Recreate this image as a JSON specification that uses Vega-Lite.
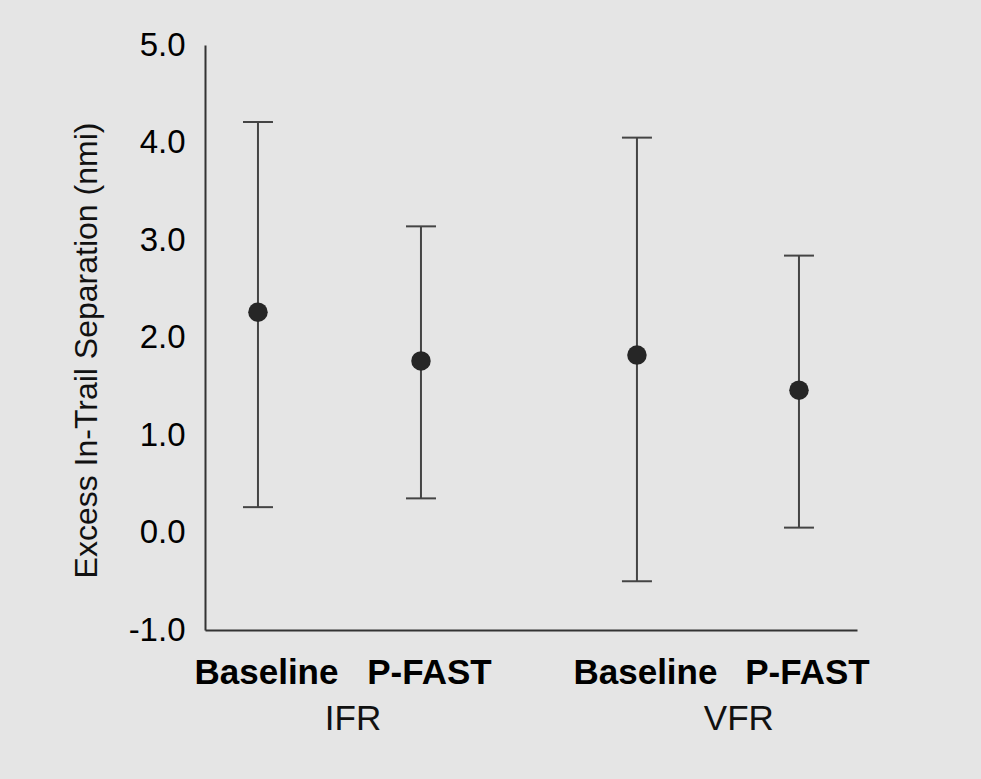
{
  "$schema": "https://vega.github.io/schema/vega-lite/v6.json",
  "autosize": "none",
  "padding": {"left": 205, "top": 45, "right": 124, "bottom": 149},
  "width": 652,
  "height": 585,
  "background": "#e5e5e5",
  "config": {"view": {"stroke": null}, "font": "Liberation Sans"},
  "datasets": {
    "stats": [
      {"cond": "IFR Baseline", "pos": 1, "mean": 2.26, "lo": 0.26, "hi": 4.21},
      {"cond": "IFR P-FAST", "pos": 2, "mean": 1.76, "lo": 0.35, "hi": 3.14},
      {"cond": "VFR Baseline", "pos": 3.325, "mean": 1.82, "lo": -0.5, "hi": 4.05},
      {"cond": "VFR P-FAST", "pos": 4.319, "mean": 1.46, "lo": 0.05, "hi": 2.84}
    ],
    "groups": [
      {"group": "IFR", "gpos": 1.583},
      {"group": "VFR", "gpos": 3.95}
    ]
  },
  "layer": [
    {
      "data": {"name": "stats"},
      "mark": {"type": "rule", "color": "#444444", "strokeWidth": 2},
      "encoding": {
        "x": {
          "field": "pos", "type": "quantitative",
          "scale": {"domain": [0.675, 4.675], "nice": false, "zero": false},
          "axis": {
            "title": null,
            "values": [1, 2, 3.325, 4.319],
            "labelExpr": "(datum.value < 1.5 || (datum.value > 3 && datum.value < 4)) ? 'Baseline' : 'P-FAST'",
            "labelFont": "Liberation Sans",
            "labelFontWeight": "bold",
            "labelFontSize": 35,
            "labelColor": "#000000",
            "labelBaseline": "alphabetic",
            "labelPadding": 53,
            "labelOffset": 8,
            "labelOverlap": false,
            "labelFlush": false,
            "ticks": false,
            "grid": false,
            "domainColor": "#333333",
            "domainWidth": 2
          }
        },
        "y": {
          "field": "lo", "type": "quantitative",
          "scale": {"domain": [-1, 5], "nice": false, "zero": false},
          "axis": {
            "title": "Excess In-Trail Separation (nmi)",
            "titleFont": "Liberation Sans",
            "titleFontSize": 32,
            "titleFontWeight": "normal",
            "titleColor": "#111111",
            "titlePadding": 25,
            "titleY": 305,
            "values": [-1, 0, 1, 2, 3, 4, 5],
            "labelExpr": "datum.value < 0 ? '-' + format(-datum.value, '.1f') : format(datum.value, '.1f')",
            "labelFont": "Liberation Sans",
            "labelFontSize": 33,
            "labelColor": "#000000",
            "labelPadding": 20,
            "labelFlush": false,
            "labelOverlap": false,
            "ticks": false,
            "grid": false,
            "domainColor": "#333333",
            "domainWidth": 2
          }
        },
        "y2": {"field": "hi"}
      }
    },
    {
      "data": {"name": "stats"},
      "mark": {"type": "tick", "orient": "horizontal", "color": "#444444", "size": 30, "thickness": 2, "opacity": 1},
      "encoding": {
        "x": {"field": "pos", "type": "quantitative"},
        "y": {"field": "hi", "type": "quantitative"}
      }
    },
    {
      "data": {"name": "stats"},
      "mark": {"type": "tick", "orient": "horizontal", "color": "#444444", "size": 30, "thickness": 2, "opacity": 1},
      "encoding": {
        "x": {"field": "pos", "type": "quantitative"},
        "y": {"field": "lo", "type": "quantitative"}
      }
    },
    {
      "data": {"name": "stats"},
      "mark": {"type": "circle", "color": "#262626", "size": 380, "opacity": 1},
      "encoding": {
        "x": {"field": "pos", "type": "quantitative"},
        "y": {"field": "mean", "type": "quantitative"}
      }
    },
    {
      "data": {"name": "groups"},
      "mark": {"type": "text", "font": "Liberation Sans", "fontSize": 35, "baseline": "alphabetic", "align": "center", "color": "#111111"},
      "encoding": {
        "x": {"field": "gpos", "type": "quantitative"},
        "y": {"datum": -2.03},
        "text": {"field": "group"}
      }
    }
  ]
}
